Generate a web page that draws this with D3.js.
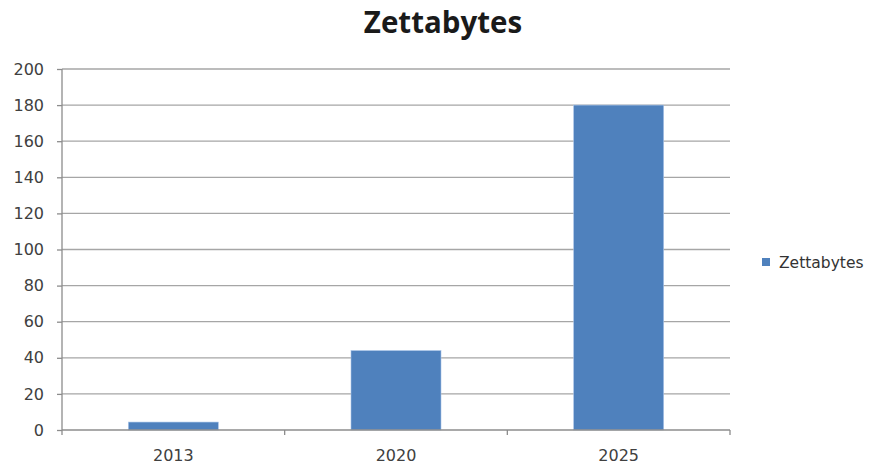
<!DOCTYPE html>
<html><head><meta charset="utf-8">
<script src="https://cdn.jsdelivr.net/npm/d3@7"></script>
<style>body{margin:0;background:#fff}</style>
</head><body>
<svg id="chart" width="872" height="466"></svg>
<script>
const categories = ["2013", "2020", "2025"];
const values = [4.4, 44, 180];
const yTicks = [0, 20, 40, 60, 80, 100, 120, 140, 160, 180, 200];
const seriesName = "Zettabytes";
const titleText = "Zettabytes";

const svg = d3.select("#chart");
const pL = 62, pR = 730, pT = 69, pB = 430;
const xb = d3.scaleBand().domain(categories).range([pL, pR]);
const y = d3.scaleLinear().domain([0, 200]).range([pB, pT]);

// gridlines
svg.append("g").selectAll("line").data(yTicks.filter(d => d > 0)).join("line")
  .attr("x1", pL).attr("x2", pR)
  .attr("y1", d => y(d)).attr("y2", d => y(d))
  .attr("stroke", "#a6a6a6").attr("stroke-width", 1.3);

// bars
svg.append("g").selectAll("rect").data(values).join("rect")
  .attr("x", (d, i) => xb(categories[i]) + xb.bandwidth() / 2 - 45)
  .attr("width", 90)
  .attr("y", d => y(d)).attr("height", d => y(0) - y(d))
  .attr("fill", "#4f81bd").attr("stroke", "#a9c4e8").attr("stroke-width", 0.6);

// y axis
const yAxis = d3.axisLeft(y).tickValues(yTicks).tickSize(5).tickPadding(13);
const gy = svg.append("g").attr("transform", `translate(${pL},0)`).call(yAxis);
gy.select(".domain").attr("stroke", "#8c8c8c").attr("stroke-width", 1.3).attr("d", `M0,${pT}V${pB}`);
gy.selectAll(".tick line").attr("stroke", "#8c8c8c").attr("stroke-width", 1.3);
gy.selectAll("text").attr("font-family", "DejaVu Sans, sans-serif").attr("font-size", 16).attr("fill", "#404040");

// x axis
const xAxis = d3.axisBottom(xb).tickSize(0).tickPadding(20);
const gx = svg.append("g").attr("transform", `translate(0,${pB})`).call(xAxis);
gx.select(".domain").attr("stroke", "#8c8c8c").attr("stroke-width", 1.3).attr("d", `M${pL},0H${pR}`);
gx.selectAll("text").attr("font-family", "DejaVu Sans, sans-serif").attr("font-size", 16).attr("fill", "#404040");
// category boundary ticks
const bounds = categories.map(c => xb(c)).concat([pR]);
svg.append("g").selectAll("line").data(bounds).join("line")
  .attr("x1", d => d).attr("x2", d => d).attr("y1", pB).attr("y2", pB + 5)
  .attr("stroke", "#8c8c8c").attr("stroke-width", 1.3);

// title
svg.append("text").attr("x", 443).attr("y", 33).attr("text-anchor", "middle")
  .attr("font-family", "Open Sans, sans-serif").attr("font-weight", "bold").attr("font-size", 29.5)
  .attr("fill", "#1a1a1a").text(titleText);

// legend
const lg = svg.append("g").attr("transform", "translate(762,258)");
lg.append("rect").attr("width", 8).attr("height", 8).attr("fill", "#4f81bd");
lg.append("text").attr("x", 17).attr("y", 9.5).attr("font-family", "DejaVu Sans, sans-serif")
  .attr("font-size", 15.5).attr("fill", "#333").text(seriesName);
</script>
</body></html>
